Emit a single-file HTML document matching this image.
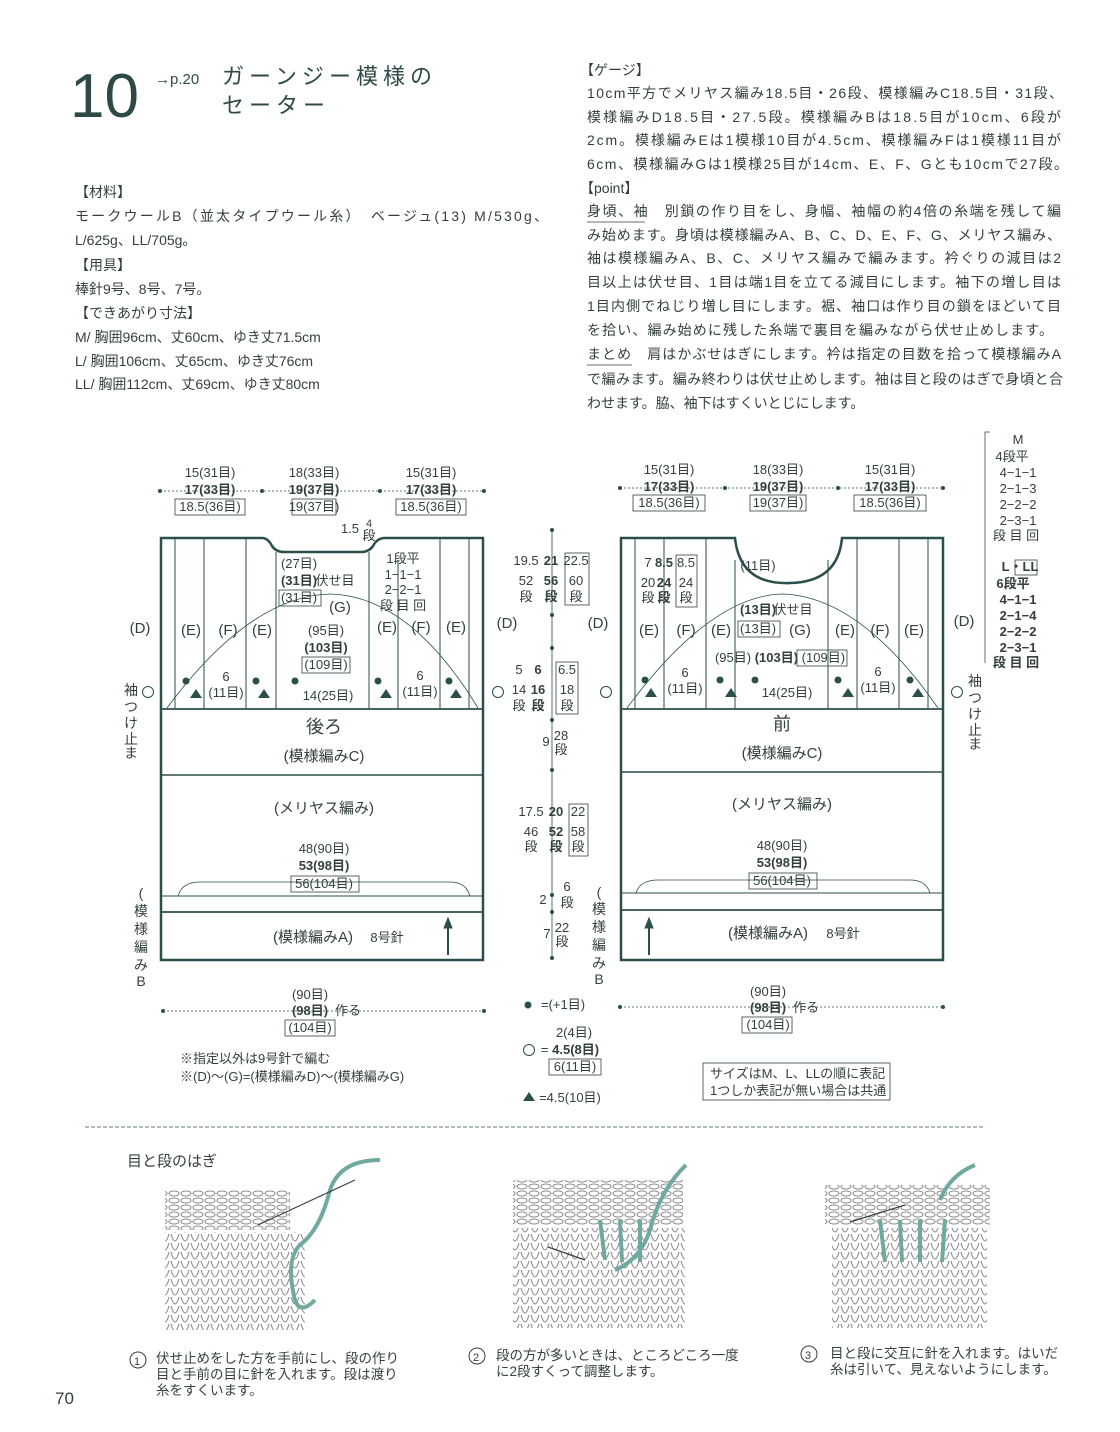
<!DOCTYPE html>
<html><head><meta charset="utf-8"><style>
html,body{margin:0;padding:0;background:#fff}
svg{display:block}
text{font-family:"Liberation Sans","Noto Sans CJK JP",sans-serif;fill:#33403f}
.p{font-size:14px}
.d{font-size:13px}
.b{font-weight:bold}
</style></head><body>
<svg width="1120" height="1432" viewBox="0 0 1120 1432" xmlns="http://www.w3.org/2000/svg">
<defs>
<pattern id="st" width="10" height="9" patternUnits="userSpaceOnUse">
<path d="M1 1 Q3 8 5 8 Q7 8 9 1" fill="none" stroke="#8a8a8a" stroke-width="1.1"/>
</pattern>
<pattern id="pb" width="12" height="7" patternUnits="userSpaceOnUse">
<ellipse cx="6" cy="3.5" rx="5" ry="2.5" fill="none" stroke="#8a8a8a" stroke-width="1"/>
</pattern>
</defs>
<!-- Title -->
<text x="70" y="117" style="font-size:62px;fill:#2e4a47">10</text>
<text x="155" y="84" style="font-size:15px;fill:#2e4a47">→p.20</text>
<text x="222" y="84" style="font-size:22px;fill:#2e4a47" textLength="210">ガーンジー模様の</text>
<text x="222" y="113" style="font-size:22px;fill:#2e4a47" textLength="103">セーター</text>
<!-- Left text -->
<g class="p">
<text x="75" y="197">【材料】</text>
<text x="75" y="221" textLength="473">モークウールB（並太タイプウール糸）　ベージュ(13) M/530g、</text>
<text x="75" y="245">L/625g、LL/705g。</text>
<text x="75" y="270">【用具】</text>
<text x="75" y="294">棒針9号、8号、7号。</text>
<text x="75" y="318">【できあがり寸法】</text>
<text x="75" y="342">M/ 胸囲96cm、丈60cm、ゆき丈71.5cm</text>
<text x="75" y="366">L/ 胸囲106cm、丈65cm、ゆき丈76cm</text>
<text x="75" y="389">LL/ 胸囲112cm、丈69cm、ゆき丈80cm</text>
</g>
<!-- Right text -->
<g class="p">
<text x="580" y="75">【ゲージ】</text>
<text x="587" y="98" textLength="476">10cm平方でメリヤス編み18.5目・26段、模様編みC18.5目・31段、</text>
<text x="587" y="122" textLength="474">模様編みD18.5目・27.5段。模様編みBは18.5目が10cm、6段が</text>
<text x="587" y="145" textLength="474">2cm。模様編みEは1模様10目が4.5cm、模様編みFは1模様11目が</text>
<text x="587" y="169" textLength="481">6cm、模様編みGは1模様25目が14cm、E、F、Gとも10cmで27段。</text>
<text x="580" y="193">【point】</text>
<text x="587" y="216" textLength="474">身頃、袖　別鎖の作り目をし、身幅、袖幅の約4倍の糸端を残して編</text>
<text x="587" y="240" textLength="474">み始めます。身頃は模様編みA、B、C、D、E、F、G、メリヤス編み、</text>
<text x="587" y="263" textLength="474">袖は模様編みA、B、C、メリヤス編みで編みます。衿ぐりの減目は2</text>
<text x="587" y="287" textLength="474">目以上は伏せ目、1目は端1目を立てる減目にします。袖下の増し目は</text>
<text x="587" y="311" textLength="474">1目内側でねじり増し目にします。裾、袖口は作り目の鎖をほどいて目</text>
<text x="587" y="335" textLength="466">を拾い、編み始めに残した糸端で裏目を編みながら伏せ止めします。</text>
<text x="587" y="359" textLength="474">まとめ　肩はかぶせはぎにします。衿は指定の目数を拾って模様編みA</text>
<text x="587" y="384" textLength="476">で編みます。編み終わりは伏せ止めします。袖は目と段のはぎで身頃と合</text>
<text x="587" y="408">わせます。脇、袖下はすくいとじにします。</text>
</g>
<line x1="587" y1="222" x2="645" y2="222" stroke="#33403f" stroke-width="0.8"/>
<line x1="587" y1="365" x2="632" y2="365" stroke="#33403f" stroke-width="0.8"/>

<g stroke="#2b4f4a" fill="none">
<!-- Back -->
<path d="M161 960 V538 H262 Q268 538 272 546 Q276 552 284 552 H361 Q369 552 373 546 Q377 538 385 538 H483 V960 Z" stroke-width="2.5"/>
<g stroke-width="1">
<line x1="175" y1="538" x2="175" y2="709"/><line x1="204" y1="538" x2="204" y2="709"/>
<line x1="246" y1="538" x2="246" y2="709"/><line x1="276" y1="552" x2="276" y2="709"/>
<line x1="369" y1="552" x2="369" y2="709"/><line x1="398" y1="560" x2="398" y2="709"/>
<line x1="440" y1="538" x2="440" y2="709"/><line x1="469" y1="538" x2="469" y2="709"/>
</g>
<line x1="161" y1="709" x2="483" y2="709" stroke-width="1.8"/>
<line x1="161" y1="775" x2="483" y2="775" stroke-width="1.5"/>
<line x1="161" y1="896" x2="483" y2="896" stroke-width="1"/>
<line x1="161" y1="912" x2="483" y2="912" stroke-width="1.8"/>
<path d="M167 708 Q250 596 330 594 Q410 596 478 708" stroke-width="0.8"/>
<path d="M178 896 Q182 882 200 882 H450 Q466 882 470 896" stroke-width="0.8"/>
<line x1="448" y1="955" x2="448" y2="925" stroke-width="2"/>
<path d="M444 928 L448 918 L452 928 Z" fill="#2b4f4a"/>
<!-- Front -->
<path d="M621 960 V538 H735 Q740 585 790 583 Q838 582 842 538 H943 V960 Z" stroke-width="2.5"/>
<g stroke-width="1">
<line x1="635" y1="538" x2="635" y2="709"/><line x1="664" y1="538" x2="664" y2="709"/>
<line x1="706" y1="538" x2="706" y2="709"/><line x1="735" y1="560" x2="735" y2="709"/>
<line x1="828" y1="560" x2="828" y2="709"/><line x1="857" y1="538" x2="857" y2="709"/>
<line x1="899" y1="538" x2="899" y2="709"/><line x1="928" y1="538" x2="928" y2="709"/>
</g>
<line x1="621" y1="709" x2="943" y2="709" stroke-width="1.8"/>
<line x1="621" y1="772" x2="943" y2="772" stroke-width="1.5"/>
<line x1="621" y1="893" x2="943" y2="893" stroke-width="1"/>
<line x1="621" y1="910" x2="943" y2="910" stroke-width="1.8"/>
<path d="M627 708 Q710 596 782 594 Q860 596 938 708" stroke-width="0.8"/>
<path d="M636 893 Q640 880 658 880 H910 Q926 880 930 893" stroke-width="0.8"/>
<line x1="649" y1="955" x2="649" y2="925" stroke-width="2"/>
<path d="M645 928 L649 918 L653 928 Z" fill="#2b4f4a"/>
<!-- center column -->
<line x1="552" y1="530" x2="552" y2="960" stroke-width="0.8"/>
<!-- dotted dim lines -->
<g stroke-width="0.8" stroke-dasharray="2 2">
<line x1="160" y1="491" x2="484" y2="491"/>
<line x1="620" y1="488" x2="943" y2="488"/>
<line x1="163" y1="1011" x2="484" y2="1011"/>
<line x1="620" y1="1007" x2="943" y2="1007"/>
</g>
<!-- sizes bracket -->
<path d="M990 432 H985 V663" stroke-width="0.8"/>
<line x1="85" y1="1127" x2="985" y2="1127" stroke-width="0.8" stroke-dasharray="4 2"/>
<!-- circles -->
<circle cx="148" cy="692" r="5.5" stroke-width="1"/>
<circle cx="498" cy="692" r="5.5" stroke-width="1"/>
<circle cx="606" cy="692" r="5.5" stroke-width="1"/>
<circle cx="957" cy="692" r="5.5" stroke-width="1"/>
<circle cx="529" cy="1050" r="5.5" stroke-width="1"/>
</g>
<g fill="#2b4f4a">
<circle cx="160" cy="491" r="2"/><circle cx="262" cy="491" r="2"/><circle cx="380" cy="491" r="2"/><circle cx="484" cy="491" r="2"/>
<circle cx="620" cy="488" r="2"/><circle cx="725" cy="488" r="2"/><circle cx="838" cy="488" r="2"/><circle cx="943" cy="488" r="2"/>
<circle cx="163" cy="1011" r="2"/><circle cx="484" cy="1011" r="2"/><circle cx="620" cy="1007" r="2"/><circle cx="943" cy="1007" r="2"/>
<circle cx="552" cy="530" r="2"/><circle cx="552" cy="615" r="2"/><circle cx="552" cy="648" r="2"/><circle cx="552" cy="720" r="2"/><circle cx="552" cy="770" r="2"/><circle cx="552" cy="895" r="2"/><circle cx="552" cy="912" r="2"/><circle cx="552" cy="958" r="2"/>
<circle cx="186" cy="681" r="3.5"/><circle cx="256" cy="681" r="3.5"/><circle cx="295" cy="681" r="3.5"/><circle cx="378" cy="681" r="3.5"/><circle cx="449" cy="681" r="3.5"/>
<circle cx="645" cy="680" r="3.5"/><circle cx="720" cy="680" r="3.5"/><circle cx="755" cy="680" r="3.5"/><circle cx="838" cy="680" r="3.5"/><circle cx="910" cy="680" r="3.5"/>
<circle cx="528" cy="1005" r="3.5"/>
<path d="M190 698 l6 -9 l6 9z"/><path d="M258 698 l6 -9 l6 9z"/><path d="M380 698 l6 -9 l6 9z"/><path d="M450 698 l6 -9 l6 9z"/>
<path d="M645 697 l6 -9 l6 9z"/><path d="M725 697 l6 -9 l6 9z"/><path d="M842 697 l6 -9 l6 9z"/><path d="M912 697 l6 -9 l6 9z"/>
<path d="M523 1101 l6 -9 l6 9z"/>
</g>

<g class="d" text-anchor="middle">
<!-- back top -->
<text x="210" y="477">15(31目)</text><text x="210" y="494" class="b">17(33目)</text><text x="210" y="511">18.5(36目)</text>
<text x="314" y="477">18(33目)</text><text x="314" y="494" class="b">19(37目)</text><text x="314" y="511">19(37目)</text>
<text x="431" y="477">15(31目)</text><text x="431" y="494" class="b">17(33目)</text><text x="431" y="511">18.5(36目)</text>
<!-- front top -->
<text x="669" y="474">15(31目)</text><text x="669" y="491" class="b">17(33目)</text><text x="669" y="507">18.5(36目)</text>
<text x="778" y="474">18(33目)</text><text x="778" y="491" class="b">19(37目)</text><text x="778" y="507">19(37目)</text>
<text x="890" y="474">15(31目)</text><text x="890" y="491" class="b">17(33目)</text><text x="890" y="507">18.5(36目)</text>
<!-- back yoke -->
<text x="350" y="533">1.5</text><text x="369" y="527" style="font-size:11px">4</text><text x="369" y="540">段</text>
<text x="299" y="568">(27目)</text><text x="299" y="585" class="b">(31目)</text><text x="335" y="585">伏せ目</text><text x="299" y="602">(31目)</text>
<text x="340" y="612" style="font-size:15px">(G)</text>
<text x="403" y="563">1段平</text><text x="403" y="579">1−1−1</text><text x="403" y="594">2−2−1</text><text x="403" y="610">段 目 回</text>
<text x="140" y="633" style="font-size:15px">(D)</text><text x="191" y="635" style="font-size:15px">(E)</text><text x="228" y="635" style="font-size:15px">(F)</text><text x="262" y="635" style="font-size:15px">(E)</text>
<text x="387" y="632" style="font-size:15px">(E)</text><text x="421" y="632" style="font-size:15px">(F)</text><text x="456" y="632" style="font-size:15px">(E)</text><text x="507" y="628" style="font-size:15px">(D)</text>
<text x="326" y="635">(95目)</text><text x="326" y="652" class="b">(103目)</text><text x="326" y="669">(109目)</text>
<text x="226" y="681">6</text><text x="226" y="697">(11目)</text><text x="420" y="680">6</text><text x="420" y="696">(11目)</text>
<text x="328" y="700">14(25目)</text>
<text x="324" y="733" style="font-size:18px">後ろ</text>
<text x="324" y="761" style="font-size:15px">(模様編みC)</text>
<text x="324" y="813" style="font-size:15px">(メリヤス編み)</text>
<text x="324" y="853">48(90目)</text><text x="324" y="870" class="b">53(98目)</text><text x="324" y="888">56(104目)</text>
<text x="313" y="942" style="font-size:15px">(模様編みA)</text><text x="387" y="942">8号針</text>
<text x="310" y="999">(90目)</text><text x="310" y="1015" class="b">(98目)</text><text x="348" y="1015">作る</text><text x="310" y="1032">(104目)</text>
<!-- front yoke -->
<text x="648" y="567">7</text><text x="664" y="567" class="b">8.5</text><text x="686" y="567">8.5</text>
<text x="648" y="587">20</text><text x="664" y="587" class="b">24</text><text x="686" y="587">24</text>
<text x="648" y="602">段</text><text x="664" y="602" class="b">段</text><text x="686" y="602">段</text>
<text x="758" y="570">(11目)</text><text x="758" y="614" class="b">(13目)</text><text x="793" y="614">伏せ目</text><text x="758" y="633">(13目)</text>
<text x="800" y="635" style="font-size:15px">(G)</text>
<text x="598" y="628" style="font-size:15px">(D)</text><text x="649" y="635" style="font-size:15px">(E)</text><text x="686" y="635" style="font-size:15px">(F)</text><text x="721" y="635" style="font-size:15px">(E)</text>
<text x="845" y="635" style="font-size:15px">(E)</text><text x="880" y="635" style="font-size:15px">(F)</text><text x="914" y="635" style="font-size:15px">(E)</text><text x="964" y="626" style="font-size:15px">(D)</text>
<text x="780" y="662">(95目) <tspan class="b">(103目)</tspan> (109目)</text>
<text x="685" y="677">6</text><text x="685" y="693">(11目)</text><text x="878" y="676">6</text><text x="878" y="692">(11目)</text>
<text x="787" y="697">14(25目)</text>
<text x="782" y="730" style="font-size:18px">前</text>
<text x="782" y="758" style="font-size:15px">(模様編みC)</text>
<text x="782" y="809" style="font-size:15px">(メリヤス編み)</text>
<text x="782" y="850">48(90目)</text><text x="782" y="867" class="b">53(98目)</text><text x="782" y="885">56(104目)</text>
<text x="768" y="938" style="font-size:15px">(模様編みA)</text><text x="843" y="938">8号針</text>
<text x="768" y="996">(90目)</text><text x="768" y="1012" class="b">(98目)</text><text x="806" y="1012">作る</text><text x="768" y="1029">(104目)</text>
<!-- center -->
<text x="526" y="565">19.5</text><text x="551" y="565" class="b">21</text><text x="576" y="565">22.5</text>
<text x="526" y="585">52</text><text x="551" y="585" class="b">56</text><text x="576" y="585">60</text>
<text x="526" y="601">段</text><text x="551" y="601" class="b">段</text><text x="576" y="601">段</text>
<text x="519" y="674">5</text><text x="538" y="674" class="b">6</text><text x="567" y="674">6.5</text>
<text x="519" y="694">14</text><text x="538" y="694" class="b">16</text><text x="567" y="694">18</text>
<text x="519" y="710">段</text><text x="538" y="710" class="b">段</text><text x="567" y="710">段</text>
<text x="546" y="746">9</text><text x="561" y="740">28</text><text x="561" y="754">段</text>
<text x="531" y="816">17.5</text><text x="556" y="816" class="b">20</text><text x="578" y="816">22</text>
<text x="531" y="836">46</text><text x="556" y="836" class="b">52</text><text x="578" y="836">58</text>
<text x="531" y="851">段</text><text x="556" y="851" class="b">段</text><text x="578" y="851">段</text>
<text x="543" y="904">2</text><text x="567" y="891">6</text><text x="567" y="907">段</text>
<text x="547" y="938">7</text><text x="562" y="932">22</text><text x="562" y="946">段</text>
<!-- legend -->
<text x="563" y="1009">=(+1目)</text>
<text x="574" y="1037">2(4目)</text>
<text x="570" y="1054"><tspan>=</tspan> <tspan class="b">4.5(8目)</tspan></text>
<text x="575" y="1071">6(11目)</text>
<text x="570" y="1102">=4.5(10目)</text>
<!-- sizes table -->
<text x="1018" y="444">M</text>
<text x="1012" y="461">4段平</text><text x="1018" y="477">4−1−1</text><text x="1018" y="493">2−1−3</text><text x="1018" y="509">2−2−2</text><text x="1018" y="525">2−3−1</text><text x="1016" y="540">段 目 回</text>
<text x="1020" y="571" class="b">L・LL</text>
<g class="b"><text x="1013" y="588">6段平</text><text x="1018" y="604">4−1−1</text><text x="1018" y="620">2−1−4</text><text x="1018" y="636">2−2−2</text><text x="1018" y="652">2−3−1</text><text x="1016" y="667">段 目 回</text></g>
</g>
<!-- boxes around boxed numbers -->
<g fill="none" stroke="#33403f" stroke-width="0.8">
<rect x="175" y="499" width="70" height="16"/><rect x="292" y="499" width="44" height="16"/><rect x="396" y="499" width="70" height="16"/>
<rect x="633" y="495" width="72" height="16"/><rect x="750" y="495" width="56" height="16"/><rect x="854" y="495" width="72" height="16"/>
<rect x="279" y="590" width="42" height="16"/><rect x="738" y="621" width="42" height="16"/>
<rect x="302" y="657" width="48" height="16"/><rect x="797" y="650" width="50" height="16"/>
<rect x="676" y="555" width="21" height="52"/><rect x="565" y="553" width="24" height="52"/><rect x="556" y="662" width="22" height="52"/><rect x="569" y="804" width="19" height="52"/>
<rect x="291" y="876" width="68" height="16"/><rect x="749" y="873" width="68" height="16"/>
<rect x="285" y="1020" width="50" height="16"/><rect x="742" y="1017" width="50" height="16"/>
<rect x="549" y="1059" width="52" height="16"/>
<rect x="703" y="1063" width="187" height="37"/>
<rect x="1015" y="560" width="22" height="15"/>
</g>
<!-- vertical labels -->
<g class="d" style="font-size:14px" text-anchor="middle">
<text x="131" y="695">袖</text><text x="131" y="712">つ</text><text x="131" y="728">け</text><text x="131" y="744">止</text><text x="131" y="758">ま</text>
<text x="975" y="686">袖</text><text x="975" y="703">つ</text><text x="975" y="719">け</text><text x="975" y="735">止</text><text x="975" y="749">ま</text>
<text x="141" y="898">(</text><text x="141" y="916">模</text><text x="141" y="934">様</text><text x="141" y="952">編</text><text x="141" y="970">み</text><text x="141" y="986">B</text>
<text x="599" y="897">(</text><text x="599" y="914">模</text><text x="599" y="932">様</text><text x="599" y="950">編</text><text x="599" y="968">み</text><text x="599" y="984">B</text>
</g>
<g class="d">
<text x="180" y="1063">※指定以外は9号針で編む</text>
<text x="180" y="1081">※(D)〜(G)=(模様編みD)〜(模様編みG)</text>
<text x="710" y="1078">サイズはM、L、LLの順に表記</text>
<text x="710" y="1095">1つしか表記が無い場合は共通</text>
</g>
<!-- bottom -->
<text x="127" y="1166" style="font-size:15px">目と段のはぎ</text>
<g>
<rect x="165" y="1190" width="125" height="40" fill="url(#pb)"/>
<rect x="165" y="1232" width="140" height="98" fill="url(#st)"/>
<rect x="513" y="1180" width="170" height="45" fill="url(#pb)"/>
<rect x="513" y="1228" width="172" height="100" fill="url(#st)"/>
<rect x="825" y="1185" width="165" height="40" fill="url(#pb)"/>
<rect x="832" y="1228" width="155" height="100" fill="url(#st)"/>
<g fill="none" stroke="#6fa9a0" stroke-width="4">
<path d="M380 1160 Q340 1160 330 1190 Q320 1230 300 1245 Q285 1260 295 1300 Q300 1315 315 1300"/>
<path d="M686 1165 Q660 1190 650 1230 Q640 1260 615 1270 M600 1220 L605 1260 M620 1220 L622 1262 M640 1220 L640 1262"/>
<path d="M975 1165 Q950 1175 940 1200 M880 1220 L885 1262 M900 1220 L902 1262 M920 1220 L920 1262 M945 1220 L942 1262"/>
</g>
<path d="M355 1180 L258 1225 M548 1247 L585 1260 M905 1205 L850 1222" stroke="#33403f" stroke-width="1.2" fill="none"/>
</g>
<g class="p" style="font-size:13.5px">
<circle cx="138" cy="1360" r="8" fill="none" stroke="#33403f"/><text x="134" y="1365" style="font-size:11px">1</text>
<text x="156" y="1363">伏せ止めをした方を手前にし、段の作り</text>
<text x="156" y="1379">目と手前の目に針を入れます。段は渡り</text>
<text x="156" y="1395">糸をすくいます。</text>
<circle cx="477" cy="1356" r="8" fill="none" stroke="#33403f"/><text x="473" y="1361" style="font-size:11px">2</text>
<text x="496" y="1360">段の方が多いときは、ところどころ一度</text>
<text x="496" y="1376">に2段すくって調整します。</text>
<circle cx="809" cy="1354" r="8" fill="none" stroke="#33403f"/><text x="805" y="1359" style="font-size:11px">3</text>
<text x="830" y="1358">目と段に交互に針を入れます。はいだ</text>
<text x="830" y="1374">糸は引いて、見えないようにします。</text>
</g>
<text x="55" y="1404" style="font-size:17px">70</text>
</svg>
</body></html>
